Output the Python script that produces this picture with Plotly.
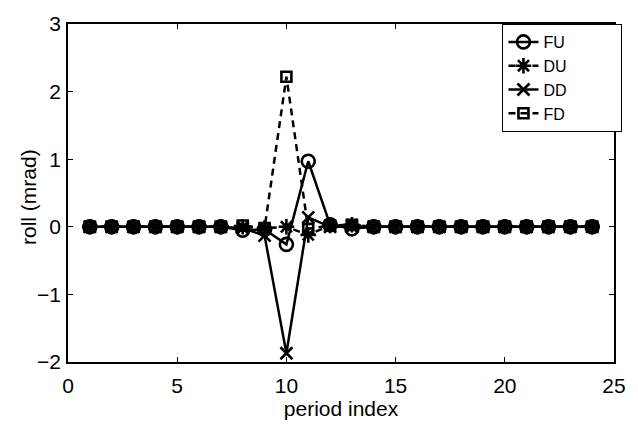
import plotly.graph_objects as go

period = list(range(1, 25))

fu = [0, 0, 0, 0, 0, 0, 0, -0.05, -0.04, -0.26, 0.97, 0.03, -0.03,
      0, 0, 0, 0, 0, 0, 0, 0, 0, 0, 0]
du = [0, 0, 0, 0, 0, 0, 0, 0.0, -0.02, 0.0, -0.12, 0.02, 0.03,
      0, 0, 0, 0, 0, 0, 0, 0, 0, 0, 0]
dd = [0, 0, 0, 0, 0, 0, 0, -0.02, -0.13, -1.87, 0.14, 0.0, 0.0,
      0, 0, 0, 0, 0, 0, 0, 0, 0, 0, 0]
fd = [0, 0, 0, 0, 0, 0, 0, 0.02, -0.02, 2.22, -0.03, 0.02, 0.03,
      0, 0, 0, 0, 0, 0, 0, 0, 0, 0, 0]

series_names = ["FU", "DU", "DD", "FD"]
series_values = [fu, du, dd, fd]
dashes = ["solid", "7px,5px", "solid", "7px,5px"]
symbols = ["circle-open", "asterisk-open", "x-thin-open", "square-open"]
sizes = [13, 13, 12, 10]

FONT = "Liberation Sans, Arial, Helvetica, sans-serif"
pad = "\u00a0" * 11

fig = go.Figure()
for name, vals, dash, sym, size in zip(series_names, series_values, dashes, symbols, sizes):
    fig.add_trace(go.Scatter(
        x=period, y=vals, name=name + pad, mode="lines+markers",
        line=dict(color="black", width=2.5, dash=dash),
        marker=dict(symbol=sym, size=size, color="black",
                    line=dict(color="black", width=2.6)),
    ))

axis_common = dict(
    showline=True, linecolor="black", linewidth=1.5, mirror="ticks",
    ticks="inside", ticklen=5, tickwidth=1, tickcolor="black",
    showgrid=False, zeroline=False,
    tickfont=dict(family=FONT, size=21, color="black"),
)

fig.update_xaxes(range=[0, 25], dtick=5, tick0=0,
                 title=dict(text="period index", standoff=0,
                            font=dict(family=FONT, size=21, color="black")),
                 ticklabelstandoff=4, **axis_common)
fig.update_yaxes(range=[-2, 3], dtick=1, tick0=0,
                 ticklabelstandoff=1, **axis_common)

fig.add_annotation(text="roll (mrad)", xref="paper", yref="paper",
                   x=0, y=0.5, xanchor="center", yanchor="middle",
                   xshift=-40, yshift=-4, textangle=-90, showarrow=False,
                   font=dict(family=FONT, size=21, color="black"))

fig.update_layout(
    width=638, height=424,
    margin=dict(l=68, r=15, t=13, b=52),
    plot_bgcolor="white", paper_bgcolor="white",
    showlegend=True,
    legend=dict(x=1.0155, y=1.0, xanchor="right", yanchor="top",
                bgcolor="white", bordercolor="black", borderwidth=1,
                font=dict(family=FONT, size=16, color="black"),
                tracegroupgap=0),
)

fig.write_html("out.html")
